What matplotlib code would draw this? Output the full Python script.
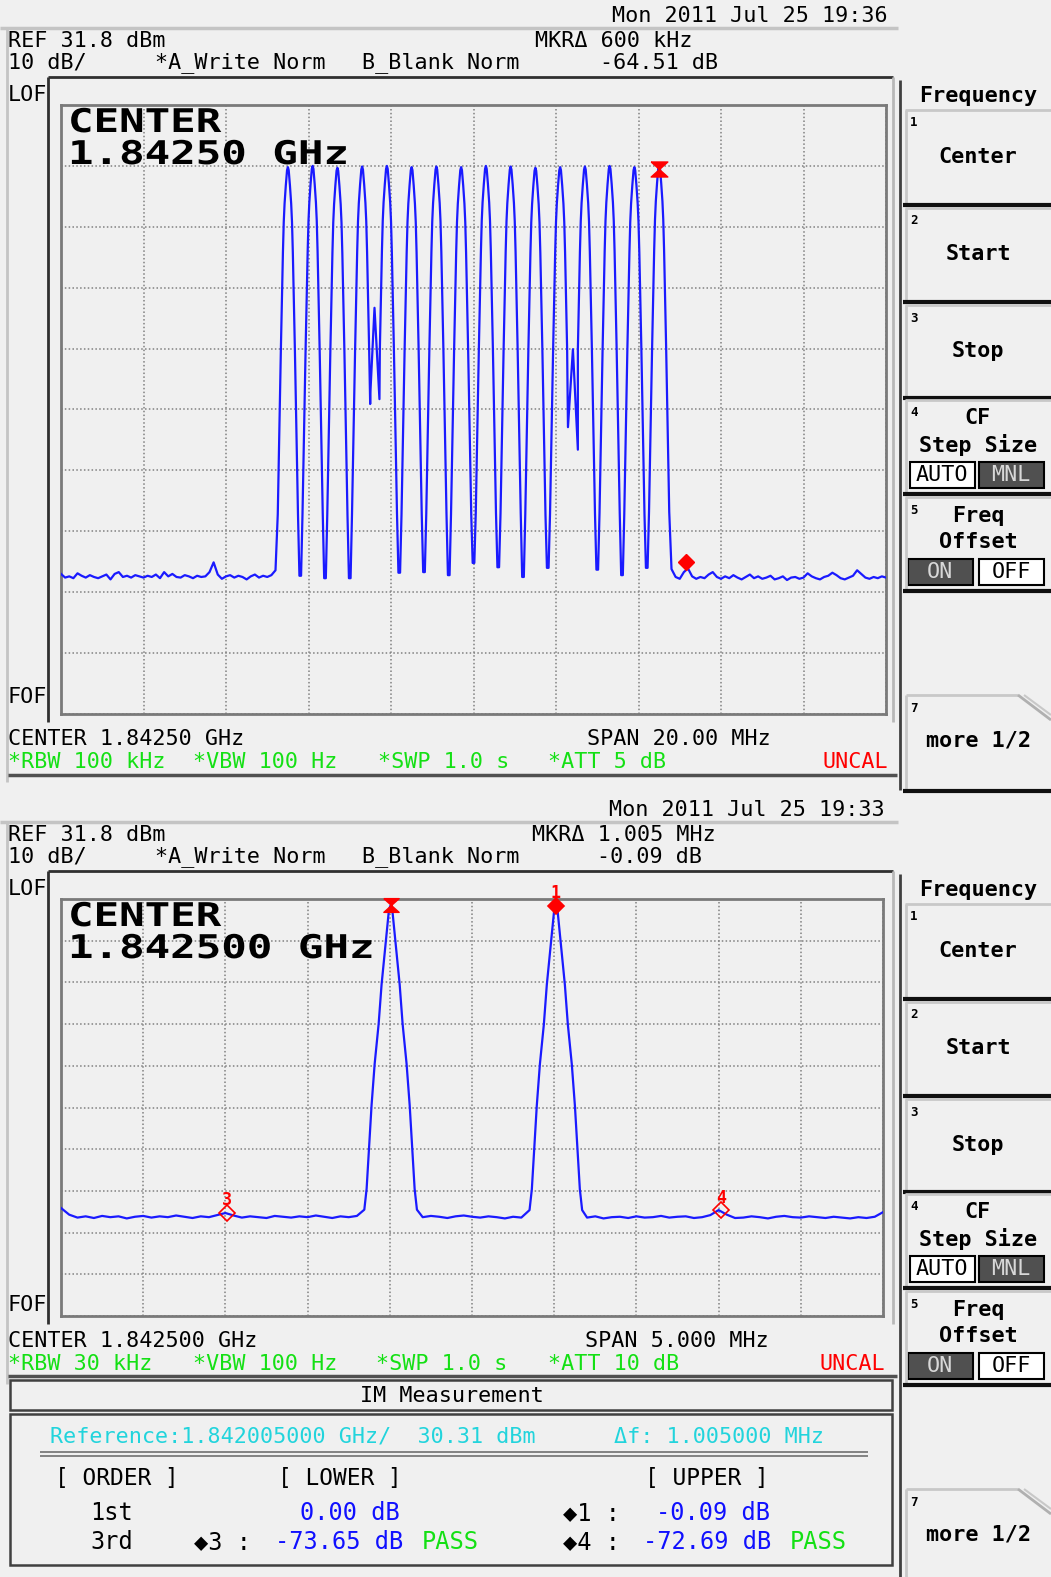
import matplotlib
matplotlib.use("Agg")
import matplotlib.pyplot as plt
import numpy as np
from matplotlib.patches import Rectangle
from matplotlib.patheffects import AbstractPathEffect
from matplotlib.transforms import Affine2D
from matplotlib.ticker import FixedLocator

W, H = 1051, 1577

# common analyzer settings
REF_DBM = 31.8
DB_PER_DIV = 10
N_DIV = 10

# ---- screen 1: 16 carriers, span 20 MHz (offsets from centre, MHz)
SPAN1 = 20.0
CARRIERS1 = [-4.5, -3.9, -3.3, -2.7, -2.1, -1.5, -0.9, -0.3,
             0.3, 0.9, 1.5, 2.1, 2.7, 3.3, 3.9, 4.5]
PEAKS1 = [21.6, 21.8, 21.5, 21.7, 21.8, 21.6, 21.7, 21.6,
          21.8, 21.7, 21.5, 21.6, 21.7, 21.8, 21.6, 22.0]
# carrier shape: offset from carrier (MHz) -> dB below its peak
SHAPE1_OFF = [0.0, 0.02, 0.05, 0.08, 0.10, 0.12, 0.145, 0.17, 0.195, 0.22, 0.245]
SHAPE1_DROP = [0, 0.5, 3, 6, 9, 14, 22, 30, 39, 48, 57]
# level of the notch between neighbouring carriers (None = see bump lists)
DIPS1 = [-45.5, -45.9, -45.9, None, -45.0, -44.9, -45.4, -43.4,
         -44.1, -45.7, -44.2, None, -44.5, -45.4, -44.2]
BUMP1_GAPS = [3, 11]
BUMP1_FREQ = [[-2.50, -2.40, -2.28], [2.29, 2.41, 2.53]]
BUMP1_DBM = [[-15.5, -1.5, -16.5], [-21.1, -8.3, -24.8]]
# noise floor, 0.1 MHz steps
FLOOR1_LEFT_START = -10.0
FLOOR1_LEFT = [-45.2, -45.8, -45.6, -45.9, -45.1, -45.5, -45.8, -45.4, -45.7, -45.9,
               -45.6, -45.3, -46.1, -45.2, -44.9, -45.7, -45.5, -45.8, -45.4, -45.6,
               -45.8, -45.5, -45.7, -45.3, -45.9, -44.9, -45.6, -45.2, -45.7, -45.8,
               -45.4, -45.6, -45.9, -45.5, -45.7, -45.6, -44.9, -43.3, -45.3, -46.0,
               -45.6, -45.4, -45.8, -45.5, -45.7, -46.1, -45.6, -45.3, -45.8, -45.5,
               -45.7, -45.4, -44.6]
FLOOR1_RIGHT_START = 4.8
FLOOR1_RIGHT = [-44.4, -45.7, -46.0, -44.9, -44.3, -45.6, -46.0, -45.7, -45.9, -45.3,
                -44.9, -45.7, -46.0, -45.6, -45.9, -45.4, -45.8, -46.1, -45.7, -45.3,
                -45.9, -45.6, -46.0, -45.8, -45.5, -46.1, -45.9, -45.6, -46.2, -45.8,
                -45.7, -46.0, -45.8, -45.1, -45.6, -45.9, -46.1, -45.7, -45.5, -45.0,
                -45.4, -45.9, -46.1, -45.8, -45.5, -44.6, -45.2, -45.8, -46.0, -45.7,
                -45.9, -45.6, -45.8]
MKR1_PEAK = (4.5, 21.3)
MKR1_DELTA = (5.15, -43.2)

# ---- screen 2: two tones, span 5 MHz
SPAN2 = 5.0
TONES2 = [-0.495, 0.510]
PEAKS2 = [30.3, 30.2]
SHAPE2_OFF = [0.0, 0.01, 0.03, 0.055, 0.073, 0.097, 0.116, 0.131, 0.146, 0.160]
SHAPE2_DROP = [0, 1, 9, 19, 28.5, 38, 48, 58, 68, 73]
# noise floor, 0.05 MHz steps
FLOOR2_LEFT_START = -2.5
FLOOR2_LEFT = [-42.3, -43.9, -44.6, -44.3, -44.7, -44.2, -44.5, -44.3, -44.8, -44.4,
               -44.2, -44.6, -44.3, -44.5, -44.1, -44.4, -44.7, -44.3, -44.5, -44.0,
               -43.5, -44.1, -44.6, -44.3, -44.5, -44.7, -44.2, -44.4, -44.6, -44.3,
               -44.5, -44.1, -44.4, -44.7, -44.3, -44.5, -44.2]
FLOOR2_MID_START = -0.30
FLOOR2_MID = [-44.5, -44.2, -44.4, -44.7, -44.3, -44.1, -44.4, -44.6, -44.3, -44.5,
              -44.8, -44.4, -44.6]
FLOOR2_RIGHT_START = 0.70
FLOOR2_RIGHT = [-44.6, -44.3, -44.8, -44.5, -44.4, -44.7, -44.3, -44.6, -44.5, -44.2,
                -44.6, -44.4, -44.3, -44.7, -44.5, -44.0, -42.8, -43.9, -44.7, -44.6,
                -44.3, -44.5, -44.8, -44.4, -44.2, -44.5, -44.6, -44.3, -44.5, -44.7,
                -44.4, -44.6, -44.8, -44.5, -44.7, -44.4, -43.3]
MKR2_REF = (-0.495, 30.4)
MKR2 = [(0.510, 30.2, "1"), (-1.49, -43.5, "3"), (1.515, -42.9, "4")]

BG = "#f0f0f0"
BLUE = "#1a1aff"
RED = "#ff0000"
GREEN = "#14e014"
CYAN = "#22d4dc"
MONO = ["DejaVu Sans Mono", "DejaVu Sans"]


class Stretch(AbstractPathEffect):
    # widen glyphs horizontally, the analyzer font is wider than DejaVu
    def __init__(self, sx=1.0):
        super().__init__()
        self.sx = sx

    def draw_path(self, renderer, gc, tpath, affine, rgbFace=None):
        renderer.draw_path(gc, tpath, Affine2D().scale(self.sx, 1.0) + affine, rgbFace)


def floor_pts(start, step, vals):
    f = start + step * np.arange(len(vals))
    return list(zip(f, vals))


def side(fc, peak, offs, drops, sgn, limit):
    pts = [(fc + sgn * o, peak - d) for o, d in zip(offs, drops) if o < limit]
    return pts if sgn > 0 else pts[::-1]


def trace1():
    pts = floor_pts(FLOOR1_LEFT_START, 0.1, FLOOR1_LEFT)
    prev_edge = pts[-1][0]
    for i, fc in enumerate(CARRIERS1):
        pts += side(fc, PEAKS1[i], SHAPE1_OFF, SHAPE1_DROP, -1, fc - prev_edge)
        if i == len(CARRIERS1) - 1:
            pts += side(fc, PEAKS1[i], SHAPE1_OFF, SHAPE1_DROP, 1, FLOOR1_RIGHT_START - fc)
            break
        if i in BUMP1_GAPS:
            k = BUMP1_GAPS.index(i)
            gap = list(zip(BUMP1_FREQ[k], BUMP1_DBM[k]))
        else:
            mid = 0.5 * (fc + CARRIERS1[i + 1])
            gap = [(mid - 0.02, DIPS1[i]), (mid + 0.02, DIPS1[i])]
        pts += side(fc, PEAKS1[i], SHAPE1_OFF, SHAPE1_DROP, 1, gap[0][0] - fc)
        pts += gap
        prev_edge = gap[-1][0]
    pts += floor_pts(FLOOR1_RIGHT_START, 0.1, FLOOR1_RIGHT)
    return np.array(pts).T


def trace2():
    pts = floor_pts(FLOOR2_LEFT_START, 0.05, FLOOR2_LEFT)
    segs = [floor_pts(FLOOR2_MID_START, 0.05, FLOOR2_MID),
            floor_pts(FLOOR2_RIGHT_START, 0.05, FLOOR2_RIGHT)]
    for i, fc in enumerate(TONES2):
        pts += side(fc, PEAKS2[i], SHAPE2_OFF, SHAPE2_DROP, -1, 1)
        pts += side(fc, PEAKS2[i], SHAPE2_OFF, SHAPE2_DROP, 1, 1)
        pts += segs[i]
    return np.array(pts).T


def px_axes(x0, y0, x1, y1, **kw):
    return fig.add_axes([x0 / W, 1 - y1 / H, (x1 - x0) / W, (y1 - y0) / H], **kw)


def graticule(ax, span):
    ax.set_xlim(-span / 2, span / 2)
    ax.set_ylim(REF_DBM - DB_PER_DIV * N_DIV, REF_DBM)
    ax.xaxis.set_major_locator(FixedLocator(np.linspace(-span / 2, span / 2, N_DIV + 1)))
    ax.yaxis.set_major_locator(FixedLocator(REF_DBM - DB_PER_DIV * np.arange(N_DIV + 1)))
    ax.tick_params(length=0, labelbottom=False, labelleft=False)
    ax.grid(True, linestyle=(0, (1, 1.5)), color="#808080", linewidth=1.1)
    ax.set_facecolor(BG)
    for s in ax.spines.values():
        s.set_color("#7a7a7a")
        s.set_linewidth(2)


hourglass = [(-1, 0.9), (1, 0.9), (-1, -0.9), (1, -0.9), (-1, 0.9)]

fig = plt.figure(figsize=(W / 100, H / 100), dpi=100, facecolor=BG)

# --- data axes
ax1 = px_axes(61, 105, 886, 714)
graticule(ax1, SPAN1)
x, y = trace1()
ax1.plot(x, y, color=BLUE, lw=1.6, zorder=3)
ax1.plot(*MKR1_PEAK, marker=hourglass, ms=12, color=RED, zorder=4, clip_on=False)
ax1.plot(*MKR1_DELTA, marker="D", ms=8, color=RED, zorder=4, clip_on=False)

ax2 = px_axes(61, 899, 883, 1316)
graticule(ax2, SPAN2)
x, y = trace2()
ax2.plot(x, y, color=BLUE, lw=1.6, zorder=3)
ax2.plot(*MKR2_REF, marker=hourglass, ms=11, color=RED, zorder=4, clip_on=False)
for i, (f, lv, lab) in enumerate(MKR2):
    filled = i == 0
    ax2.plot(f, lv, marker="D", ms=8, color=RED, mfc=RED if filled else "none",
             mew=1.2, zorder=4, clip_on=False)
    ax2.text(f, lv + 3.1, lab, color=RED, ha="center", va="center", fontsize=12,
             family=MONO, fontweight="bold", clip_on=False, zorder=5)

# --- overlay in pixel coordinates
ov = fig.add_axes([0, 0, 1, 1], zorder=10)
ov.set_xlim(0, W)
ov.set_ylim(H, 0)
ov.axis("off")
ov.patch.set_alpha(0)


def T(x, y, s, size=15.7, color="black", ha="left", weight="normal", **kw):
    ov.text(x, y, s, fontsize=size, color=color, ha=ha, va="center",
            family=MONO, fontweight=weight, **kw)


def L(xs, ys, color="#303030", lw=2):
    ov.plot(xs, ys, color=color, lw=lw, solid_capstyle="butt")


def big(x, y, s):
    ov.text(x, y, s, fontsize=23.5, color="black", ha="left", va="baseline",
            family=MONO, fontweight="bold", path_effects=[Stretch(1.3)])


def screen(off, date, date_r, mkr_x, mkr_f, mkr_db, frame_bot, fof_y, center_big,
           center_txt, span_txt, span_x, greens, uncal_r):
    T(date_r, 16 + off, date, ha="right")
    L([0, 898], [28 + off, 28 + off], color="#c4c4c4", lw=2.5)
    T(8, 41 + off, "REF 31.8 dBm")
    T(mkr_x, 41 + off, "MKR\u0394 " + mkr_f)
    T(8, 63 + off, "10 dB/")
    T(155, 63 + off, "*A_Write Norm")
    T(362, 63 + off, "B_Blank Norm")
    T(mkr_x + 65, 63 + off, mkr_db)
    # frame around graticule
    L([48, 48], [77 + off, frame_bot], color="#303030", lw=2)
    L([48, 893], [77 + off, 77 + off], color="#303030", lw=2)
    L([893, 893], [77 + off, frame_bot], color="#b8b8b8", lw=2)
    L([7, 7], [28 + off, frame_bot + 60], color="#c4c4c4", lw=2)
    T(8, 95 + off, "LOF")
    T(8, fof_y, "FOF")
    big(68, 132 + off, "CENTER")
    big(68, 164 + off, center_big)
    ytxt = frame_bot + 17
    T(8, ytxt, center_txt)
    T(span_x, ytxt, span_txt)
    for gx, gs in greens:
        T(gx, ytxt + 23, gs, color=GREEN)
    T(uncal_r, ytxt + 23, "UNCAL", color=RED, ha="right")


screen(0, "Mon 2011 Jul 25 19:36", 888, 535, "600 kHz", "-64.51 dB", 722, 697,
       "1.84250 GHz", "CENTER 1.84250 GHz", "SPAN 20.00 MHz", 587,
       [(8, "*RBW 100 kHz"), (193, "*VBW 100 Hz"), (378, "*SWP 1.0 s"), (548, "*ATT 5 dB")],
       888)
L([8, 897], [775, 775], color="#505050", lw=2.5)

screen(794, "Mon 2011 Jul 25 19:33", 885, 532, "1.005 MHz", "-0.09 dB", 1324, 1305,
       "1.842500 GHz", "CENTER 1.842500 GHz", "SPAN 5.000 MHz", 585,
       [(8, "*RBW 30 kHz"), (193, "*VBW 100 Hz"), (376, "*SWP 1.0 s"), (548, "*ATT 10 dB")],
       885)
L([8, 897], [1376, 1376], color="#505050", lw=2.5)

# IM measurement panel
ov.add_patch(Rectangle((10, 1380), 882, 30, fill=False, ec="#404040", lw=1.8))
T(452, 1396, "IM Measurement", ha="center")
ov.add_patch(Rectangle((10, 1414), 882, 151, fill=False, ec="#404040", lw=1.8))
T(50, 1437, "Reference:1.842005000 GHz/  30.31 dBm", color=CYAN)
T(614, 1437, "\u0394f: 1.005000 MHz", color=CYAN)
L([40, 868], [1452, 1452], color="#707070", lw=1.2)
L([40, 868], [1456, 1456], color="#707070", lw=1.2)
T(55, 1478, "[ ORDER ]", size=16.5)
T(278, 1478, "[ LOWER ]", size=16.5)
T(645, 1478, "[ UPPER ]", size=16.5)
T(90, 1513, "1st", size=17)
T(300, 1513, "0.00 dB", size=17, color="#1010ff")
T(563, 1513, "\u25c61 :", size=17)
T(656, 1513, "-0.09 dB", size=17, color="#1010ff")
T(90, 1542, "3rd", size=17)
T(194, 1542, "\u25c63 :", size=17)
T(275, 1542, "-73.65 dB", size=17, color="#1010ff")
T(422, 1542, "PASS", size=17, color=GREEN)
T(563, 1542, "\u25c64 :", size=17)
T(643, 1542, "-72.69 dB", size=17, color="#1010ff")
T(790, 1542, "PASS", size=17, color=GREEN)


# softkey panels
def button(y0, y1, num, off):
    ov.add_patch(Rectangle((905, y0 + off), 146, y1 - y0, fc=BG, ec="none"))
    L([905, 1051], [y0 + off, y0 + off], color="#c8c8c8", lw=2)
    L([906, 906], [y0 + off, y1 + off], color="#c8c8c8", lw=2)
    L([903, 1051], [y1 + off, y1 + off], color="#101010", lw=3)
    T(910, y0 + off + 13, num, size=9, weight="bold")


def key(y, s, off):
    T(978, y + off, s, weight="bold", ha="center")


def softkeys(off):
    L([900, 900], [80 + off, 790 + off], color="#404040", lw=2)
    key(96, "Frequency", off)
    for (a, b), n in zip([(110, 205), (208, 302), (305, 398), (400, 494), (497, 591)],
                         "12345"):
        button(a, b, n, off)
    key(157, "Center", off)
    key(254, "Start", off)
    key(351, "Stop", off)
    key(418, "CF", off)
    key(445, "Step Size", off)
    ov.add_patch(Rectangle((910, 462 + off), 65, 26, fc="white", ec="black", lw=1.5))
    T(942, 475 + off, "AUTO", ha="center")
    ov.add_patch(Rectangle((979, 462 + off), 65, 26, fc="#505050", ec="black", lw=1.5))
    T(1011, 475 + off, "MNL", ha="center", color="#d8d8d8")
    key(516, "Freq", off)
    key(542, "Offset", off)
    ov.add_patch(Rectangle((908, 559 + off), 65, 26, fc="#505050", ec="black", lw=1.5))
    T(940, 572 + off, "ON", ha="center", color="#d8d8d8")
    ov.add_patch(Rectangle((979, 559 + off), 65, 26, fc="white", ec="black", lw=1.5))
    T(1011, 572 + off, "OFF", ha="center")
    # button 7 with folded corner
    L([906, 1018], [695 + off, 695 + off], color="#c8c8c8", lw=2)
    L([1018, 1051], [695 + off, 720 + off], color="#b0b0b0", lw=2)
    L([1024, 1051], [695 + off, 715 + off], color="#c8c8c8", lw=1.5)
    L([906, 906], [695 + off, 790 + off], color="#c8c8c8", lw=2)
    L([903, 1051], [791 + off, 791 + off], color="#101010", lw=3)
    T(910, 708 + off, "7", size=9, weight="bold")
    key(740, "more 1/2", off)


softkeys(0)
softkeys(794)

fig.savefig("out.png", dpi=100, facecolor=BG)
